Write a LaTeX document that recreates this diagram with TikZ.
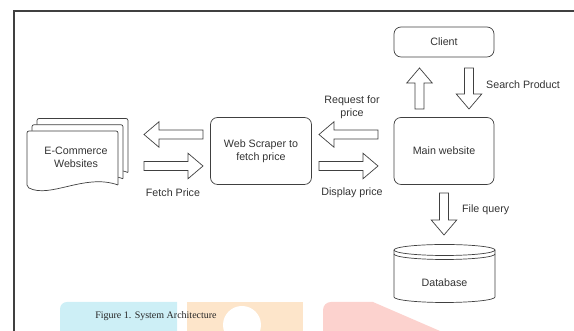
\documentclass[tikz,border=0pt]{standalone}
\usepackage{fontspec}
\setmainfont{Liberation Sans}
\newfontfamily\capfont{Liberation Serif}
\usetikzlibrary{calc,positioning}
\definecolor{wmcyan}{HTML}{CDEFF6}
\definecolor{wmorange}{HTML}{FDE5CA}
\definecolor{wmred}{HTML}{FCD2CE}
\tikzset{
  box/.style={draw=black!75, line width=0.7pt, rounded corners=7pt, minimum width=100pt, minimum height=67pt, align=center, text=black!80, font=\fontsize{10.7}{12.8}\selectfont},
  fat/.style={draw=black!75, line width=0.7pt, fill=white},
  lbl/.style={text=black!80, align=center, inner sep=0pt, font=\fontsize{10.7}{12.8}\selectfont},
}
% block arrow from #1 to #2
\def\blockarrow(#1)(#2){%
  \coordinate (hb) at ($(#2)!15pt!(#1)$);
  \draw[fat] ($(#1)!4.5pt!90:(#2)$) -- ($(hb)!4.5pt!90:(#2)$) -- ($(hb)!12.75pt!90:(#2)$) -- (#2)
    -- ($(hb)!12.75pt!-90:(#2)$) -- ($(hb)!4.5pt!-90:(#2)$) -- ($(#1)!4.5pt!-90:(#2)$) -- cycle;}

\begin{document}
\begin{tikzpicture}[x=1pt, y=1pt]
			\useasboundingbox (0, 0) rectangle (574, 331);
			%%%%% WATERMARK %%%%%
			\fill[wmcyan] (60, 0) -- (60, 22) arc (180:90:7) -- (177, 29) -- (177, 0) -- cycle;
			\fill[wmorange] (187, 0) rectangle (303, 29);
			\fill[white] (242, 6) circle (19);
			\fill[wmred] (323, 0) -- (323, 21) arc (180:90:8) -- (373, 29) -- (440, 0) -- cycle;
			
			%%%%% FRAME %%%%%
			\draw[black!75, line width=1.2pt] (14, 0) -- (14, 320) -- (574, 320);
			
			%%%%% BOXES %%%%%
			\node[box, minimum height=30pt] (client) at (444, 289) {Client};
			\node[box] (mainweb) at (444, 180) {Main website};
			\node[box, minimum width=101pt] (scraper) at (261, 180) {Web Scraper to\\fetch price};
			
			% e-commerce documents
			\foreach \d in {10, 5, 0} {
				\draw[fat, rounded corners=2pt, shift={(\d, {1.25*\d})}] (118, 146) -- (118, 200) -- (27, 200) -- (27, 144)
					[sharp corners] .. controls (50, 132) and (85, 158) .. (118, 146);
			}
			\node[lbl] (ecom) at (76, 174) {E-Commerce\\Websites};
			
			% database
			\draw[fat] (394, 81) -- (394, 34) arc (180:360:50.5 and 5.5) -- (495, 81) arc (0:180:50.5 and 5.5) -- cycle;
			\draw[black!75, line width=0.7pt] (394, 81) arc (180:360:50.5 and 5.5);
			\draw[black!75, line width=0.7pt] (394, 77) arc (180:360:50.5 and 5.5);
			\node[lbl] (db) at (444.5, 48) {Database};
			
			%%%%% ARROWS %%%%%
			\coordinate (toecomS) at (203, 196.5);
			\coordinate (toecomE) at (144, 196.5);
			\coordinate (fetchS) at (144, 165);
			\coordinate (fetchE) at (203, 165);
			\coordinate (requestS) at (378, 196.5);
			\coordinate (requestE) at (319, 196.5);
			\coordinate (displayS) at (319, 165);
			\coordinate (displayE) at (378, 165);
			\coordinate (upS) at (419.5, 222);
			\coordinate (upE) at (419.5, 263);
			\coordinate (searchS) at (469, 263);
			\coordinate (searchE) at (469, 222);
			\coordinate (queryS) at (444, 138);
			\coordinate (queryE) at (444, 96);
			
			\blockarrow(toecomS)(toecomE)
			\blockarrow(fetchS)(fetchE)
			\blockarrow(requestS)(requestE)
			\blockarrow(displayS)(displayE)
			\blockarrow(upS)(upE)
			\blockarrow(searchS)(searchE)
			\blockarrow(queryS)(queryE)
			
			%%%%% LABELS %%%%%
			\node[lbl] (fetchlbl) at (173, 138) {Fetch Price};
			\node[lbl] (displaylbl) at (352, 138) {Display price};
			\node[lbl] (requestlbl) at (352, 224) {Request for\\price};
			\node[lbl, anchor=west] (searchlbl) at (486, 246) {Search Product};
			\node[lbl, anchor=west] (querylbl) at (462, 121) {File query};
			
			\node[inner sep=0pt, text=black!85, font=\capfont\fontsize{10}{12}\selectfont] (caption) at (156, 15) {Figure 1. System Architecture};
\end{tikzpicture}
\end{document}
